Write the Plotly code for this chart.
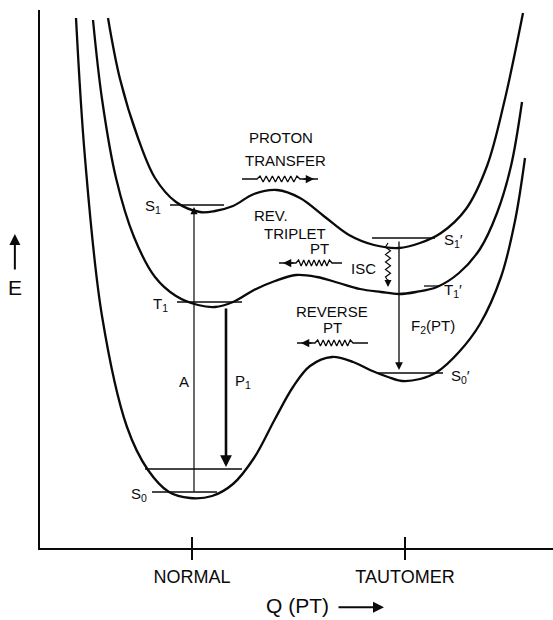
import numpy as np
import plotly.graph_objects as go

# ---------------- data (Q coordinate, energy E; arbitrary units) ----------------
# Ground state S0 / S0'
Q_S0 = [76, 85, 102, 127, 148, 169, 190, 212, 233, 254, 275, 293, 310, 332, 353, 370, 388, 402, 420, 437, 459, 480, 501, 515, 525]
E_S0 = [602, 462, 304, 193, 150, 128, 122, 124, 136, 162, 201, 233, 254, 263, 258, 250, 243, 239, 241, 248, 268, 296, 343, 399, 462]
# Triplet T1 / T1'
Q_T1 = [93, 102, 116, 134, 155, 176, 198, 215, 233, 254, 275, 296, 317, 339, 360, 381, 399, 416, 437, 459, 480, 497, 511, 522]
E_T1 = [600, 521, 442, 383, 343, 324, 315, 313, 318, 330, 339, 345, 343, 337, 331, 328, 326, 328, 333, 347, 371, 407, 454, 518]
# Excited singlet S1 / S1'
Q_S1 = [108, 120, 138, 155, 176, 200, 215, 233, 254, 277, 300, 325, 349, 374, 399, 420, 441, 466, 487, 504, 523]
E_S1 = [602, 541, 482, 442, 418, 408, 409, 414, 426, 430, 422, 403, 385, 375, 372, 377, 387, 411, 454, 517, 607]

# vibrational levels / label ticks
level_E = [415, 318, 151, 128, 382, 334, 247]
level_q0 = [170, 177, 145, 152, 372, 424, 377]
level_q1 = [224, 242, 242, 217, 435, 440, 443]

# state labels
state_text = ["S<sub>1</sub>", "T<sub>1</sub>", "S<sub>0</sub>", "S<sub>1</sub>′", "T<sub>1</sub>′", "S<sub>0</sub>′"]
state_q = [153, 160, 139, 453, 453, 460]
state_E = [414, 316, 126, 380, 330, 244]

# vertical transitions
trans_name = ["A", "P<sub>1</sub>", "F<sub>2</sub>(PT)"]
trans_q = [194, 226, 399]
trans_E0 = [127, 313, 380]
trans_E1 = [413, 153, 250]
trans_w = [1.2, 2.6, 1.3]
trans_label_q = [184, 243, 433]
trans_label_E = [239, 239, 294]

# wavy (proton transfer) arrows: start, end, zigzag start/end, level
wavy_start = [242, 342, 368]
wavy_end = [318, 279, 297]
wavy_za = [257, 332, 353]
wavy_zb = [300, 296, 315]
wavy_E = [441, 357, 277]

# ISC wavy vertical arrow
isc_q = 388
isc_E = [377, 333]

# process labels
proc_text = ["PROTON", "TRANSFER", "REV.", "TRIPLET", "PT", "REVERSE", "PT", "ISC"]
proc_q = [281, 285, 271, 295, 319, 332, 332, 363]
proc_E = [483, 460, 405, 387, 372, 309, 293, 352]

tick_vals = [192, 405]
tick_text = ["NORMAL", "TAUTOMER"]

FONT = "Liberation Sans, Arial, sans-serif"
INK = "#0a0a0a"

fig = go.Figure()

for q, e in [(Q_S0, E_S0), (Q_T1, E_T1), (Q_S1, E_S1)]:
    fig.add_trace(go.Scatter(x=q, y=e, mode="lines",
                             line=dict(color=INK, width=2.3, shape="spline", smoothing=1.0),
                             hoverinfo="skip", showlegend=False))

for e, a, b in zip(level_E, level_q0, level_q1):
    fig.add_trace(go.Scatter(x=[a, b], y=[e, e], mode="lines",
                             line=dict(color=INK, width=1.3),
                             hoverinfo="skip", showlegend=False))

# inner half of the axis ticks
for tv in tick_vals:
    fig.add_trace(go.Scatter(x=[tv, tv], y=[72, 83], mode="lines",
                             line=dict(color=INK, width=2),
                             hoverinfo="skip", showlegend=False))

annotations = []

for t, q, e in zip(state_text, state_q, state_E):
    annotations.append(dict(x=q, y=e, xref="x", yref="y", text=t, showarrow=False,
                            font=dict(family=FONT, size=15, color=INK)))

for q, e0, e1, w in zip(trans_q, trans_E0, trans_E1, trans_w):
    annotations.append(dict(x=q, y=e1, ax=q, ay=e0, xref="x", yref="y", axref="x", ayref="y",
                            text="", showarrow=True, arrowhead=2, arrowsize=1.2 if w < 2 else 0.9,
                            arrowwidth=w, arrowcolor=INK))

for t, q, e in zip(trans_name, trans_label_q, trans_label_E):
    annotations.append(dict(x=q, y=e, xref="x", yref="y", text=t, showarrow=False,
                            font=dict(family=FONT, size=15, color=INK)))

# wavy horizontal arrows
for xs0, xs1, za, zb, e in zip(wavy_start, wavy_end, wavy_za, wavy_zb, wavy_E):
    n = 15
    zx = np.linspace(za, zb, n)
    zy = [e] + [e + (3 if i % 2 else -3) for i in range(1, n - 1)] + [e]
    xs = [xs0] + list(zx) + [xs1]
    ys = [e] + zy + [e]
    fig.add_trace(go.Scatter(x=xs, y=ys, mode="lines", line=dict(color=INK, width=1.3),
                             hoverinfo="skip", showlegend=False))
    d = 1 if xs1 > xs0 else -1
    tip = xs1 - d * 4
    annotations.append(dict(x=tip, y=e, ax=tip - d * 12, ay=e, xref="x", yref="y",
                            axref="x", ayref="y", text="", showarrow=True, arrowhead=2,
                            arrowsize=1.1, arrowwidth=1.5, arrowcolor=INK))

# ISC wavy vertical arrow
n = 9
zy = np.linspace(isc_E[0] - 4, isc_E[1] + 10, n)
zx = [isc_q + (2.5 if i % 2 else -2.5) for i in range(n)]
fig.add_trace(go.Scatter(x=[isc_q] + zx + [isc_q], y=[isc_E[0]] + list(zy) + [isc_E[1] + 6],
                         mode="lines", line=dict(color=INK, width=1.2),
                         hoverinfo="skip", showlegend=False))
annotations.append(dict(x=isc_q, y=isc_E[1], ax=isc_q, ay=isc_E[1] + 9, xref="x", yref="y",
                        axref="x", ayref="y", text="", showarrow=True, arrowhead=2,
                        arrowsize=1.0, arrowwidth=1.4, arrowcolor=INK))

for t, q, e in zip(proc_text, proc_q, proc_E):
    annotations.append(dict(x=q, y=e, xref="x", yref="y", text=t, showarrow=False,
                            font=dict(family=FONT, size=15, color=INK)))

# E axis label with up arrow
annotations.append(dict(x=-0.049, y=333, xref="x domain", yref="y", text="E", showarrow=False,
                        xanchor="center", yanchor="middle",
                        font=dict(family=FONT, size=21, color=INK)))
annotations.append(dict(x=-0.049, y=386, ax=-0.049, ay=349, xref="x domain", yref="y",
                        axref="x domain", ayref="y", text="", showarrow=True, arrowhead=2,
                        arrowsize=1.1, arrowwidth=2, arrowcolor=INK))

# Q(PT) axis label with right arrow
annotations.append(dict(x=297, y=-0.106, xref="x", yref="y domain", text="Q (PT)", showarrow=False,
                        xanchor="center", yanchor="middle",
                        font=dict(family=FONT, size=21, color=INK)))
annotations.append(dict(x=384, y=-0.110, ax=337, ay=-0.110, xref="x", yref="y domain",
                        axref="x", ayref="y domain", text="", showarrow=True, arrowhead=2,
                        arrowsize=1.1, arrowwidth=2, arrowcolor=INK))

fig.update_layout(
    width=553, height=620,
    margin=dict(l=40, r=0, t=10, b=72),
    paper_bgcolor="white", plot_bgcolor="white",
    annotations=annotations,
    xaxis=dict(range=[40, 553], showgrid=False, zeroline=False, showline=True,
               linecolor=INK, linewidth=2, tickvals=tick_vals, ticktext=tick_text,
               ticks="outside", ticklen=10, tickwidth=2, tickcolor=INK,
               ticklabelstandoff=1,
               tickfont=dict(family=FONT, size=18, color=INK), fixedrange=True),
    yaxis=dict(range=[72, 610], showgrid=False, zeroline=False, showline=True,
               linecolor=INK, linewidth=2, showticklabels=False, ticks="", fixedrange=True),
)

fig.write_html("out.html", config={"displayModeBar": False},
               post_script="document.body.style.margin='0';document.body.style.overflow='hidden';")
